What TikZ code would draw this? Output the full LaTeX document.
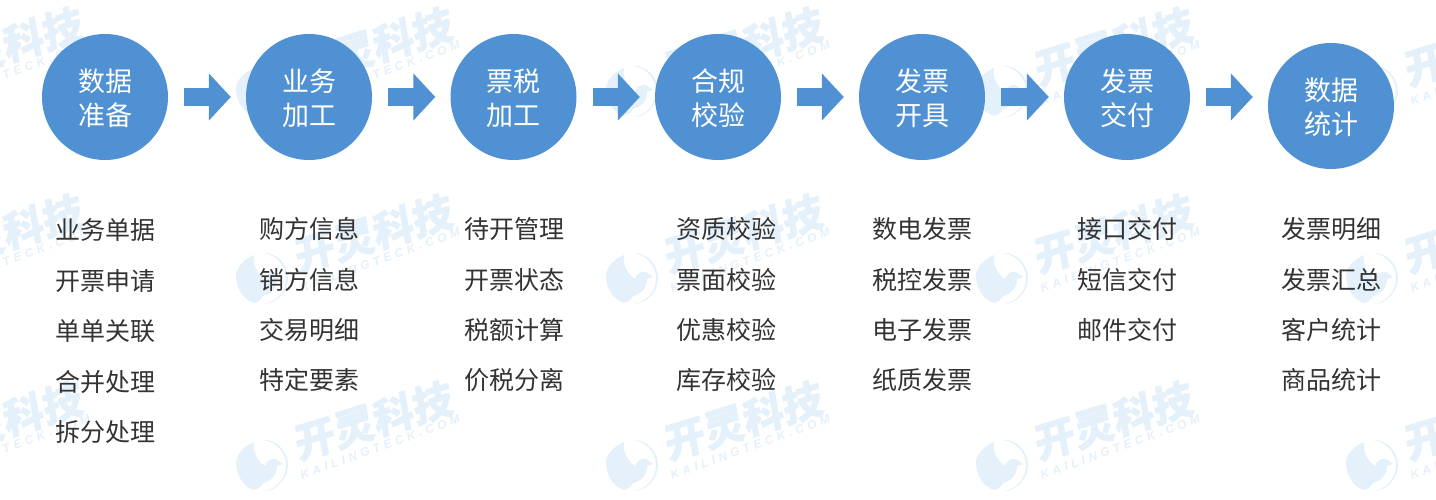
\documentclass[tikz,border=0pt]{standalone}
\usepackage{fontspec}
\setmainfont{Noto Sans CJK SC}
\newfontfamily\wmarkcjk{Noto Sans CJK SC}[BoldFeatures={FakeSlant=0.12,FakeBold=1.2}]
\newfontfamily\wmarklatin{Liberation Sans}[LetterSpace=33]
\usetikzlibrary{arrows.meta}

\definecolor{stepblue}{HTML}{5091D4}
\definecolor{wmarkblue}{HTML}{E4F0FA}
\definecolor{itemgray}{HTML}{333333}

\newcommand{\stepname}[2]{\raisebox{-1pt}[\height][\depth]{#1}\\\raisebox{-1pt}[\height][\depth]{#2}}

\tikzset{
  stepcircle/.style={circle,fill=stepblue,text=white,minimum size=126pt,inner sep=0pt,
    align=center,font=\fontsize{27}{34}\selectfont},
  stepitem/.style={text=itemgray,inner sep=0pt,font=\fontsize{25}{25}\selectfont},
  steparrow/.style={draw=stepblue,line width=18pt,shorten <=16pt,shorten >=15pt,
    -{Triangle[width=46pt,length=22pt]}},
  wmarktext/.style={text=wmarkblue,inner sep=0pt,font=\fontsize{41}{41}\wmarkcjk\bfseries},
  wmarksub/.style={text=wmarkblue,inner sep=0pt,font=\fontsize{12}{12}\wmarklatin\bfseries\itshape},
}

\begin{document}
\begin{tikzpicture}[x=1pt,y=-1pt]
  \clip (0,0) rectangle (1436,500);

  % watermark
  \foreach \wx in {-108,262,632,1002,1372} {
    \foreach \wy in {93,280,467} {
      \begin{scope}[shift={(\wx,\wy)}]
        \fill[wmarkblue] (-8,-25) .. controls (-20,-20) and (-27,-10) .. (-26,-3)
          .. controls (-25,10) and (-18,20) .. (-8,23)
          .. controls (-4,22) and (-1,20) .. (1,16)
          .. controls (9,14) and (15,8) .. (15,-1)
          -- (21,-3) -- (14,-8)
          .. controls (8,-9) and (5,-6) .. (3,-1)
          .. controls (-3,-5) and (-10,-14) .. (-8,-25);
        \fill[wmarkblue] (1,-27) .. controls (14,-28) and (26,-16) .. (26,-2)
          .. controls (26,12) and (14,24) .. (2,24)
          .. controls (14,22) and (24,12) .. (24,-2)
          .. controls (24,-15) and (13,-26) .. (1,-27);
        \node[wmarktext,rotate=17] (wm\wx\wy) at (110,-46) {开灵科技};
        \node[wmarksub,rotate=19.8] (ws\wx\wy) at (118,-20) {KAILINGTECK.COM};
      \end{scope}
    }
  }

  \node[stepcircle] (prep) at (105,97) {\stepname{数据}{准备}};
  \node[stepcircle] (biz) at (309,97) {\stepname{业务}{加工}};
  \node[stepcircle] (tax) at (513.5,97) {\stepname{票税}{加工}};
  \node[stepcircle] (check) at (718,97) {\stepname{合规}{校验}};
  \node[stepcircle] (issue) at (922,97) {\stepname{发票}{开具}};
  \node[stepcircle] (deliver) at (1127,97) {\stepname{发票}{交付}};
  \node[stepcircle] (stat) at (1331,106) {\stepname{数据}{统计}};

  \draw[steparrow] (prep.east) -- (biz.west);
  \draw[steparrow] (biz.east) -- (tax.west);
  \draw[steparrow] (tax.east) -- (check.west);
  \draw[steparrow] (check.east) -- (issue.west);
  \draw[steparrow] (issue.east) -- (deliver.west);
  \draw[steparrow] (deliver.east) -- (deliver.east -| stat.west);

  \node[stepitem] (prepa) at (105,230) {业务单据};
  \node[stepitem] (prepb) at (105,281) {开票申请};
  \node[stepitem] (prepc) at (105,331) {单单关联};
  \node[stepitem] (prepd) at (105,382) {合并处理};
  \node[stepitem] (prepe) at (105,432) {拆分处理};

  \node[stepitem] (biza) at (309,229) {购方信息};
  \node[stepitem] (bizb) at (309,280) {销方信息};
  \node[stepitem] (bizc) at (309,330) {交易明细};
  \node[stepitem] (bizd) at (309,380) {特定要素};

  \node[stepitem] (taxa) at (514,229) {待开管理};
  \node[stepitem] (taxb) at (514,280) {开票状态};
  \node[stepitem] (taxc) at (514,330) {税额计算};
  \node[stepitem] (taxd) at (514,380) {价税分离};

  \node[stepitem] (checka) at (726,229) {资质校验};
  \node[stepitem] (checkb) at (726,280) {票面校验};
  \node[stepitem] (checkc) at (726,330) {优惠校验};
  \node[stepitem] (checkd) at (726,380) {库存校验};

  \node[stepitem] (issuea) at (922,229) {数电发票};
  \node[stepitem] (issueb) at (922,280) {税控发票};
  \node[stepitem] (issuec) at (922,330) {电子发票};
  \node[stepitem] (issued) at (922,380) {纸质发票};

  \node[stepitem] (delivera) at (1127,229) {接口交付};
  \node[stepitem] (deliverb) at (1127,280) {短信交付};
  \node[stepitem] (deliverc) at (1127,330) {邮件交付};

  \node[stepitem] (stata) at (1331,229) {发票明细};
  \node[stepitem] (statb) at (1331,280) {发票汇总};
  \node[stepitem] (statc) at (1331,330) {客户统计};
  \node[stepitem] (statd) at (1331,380) {商品统计};
\end{tikzpicture}
\end{document}
